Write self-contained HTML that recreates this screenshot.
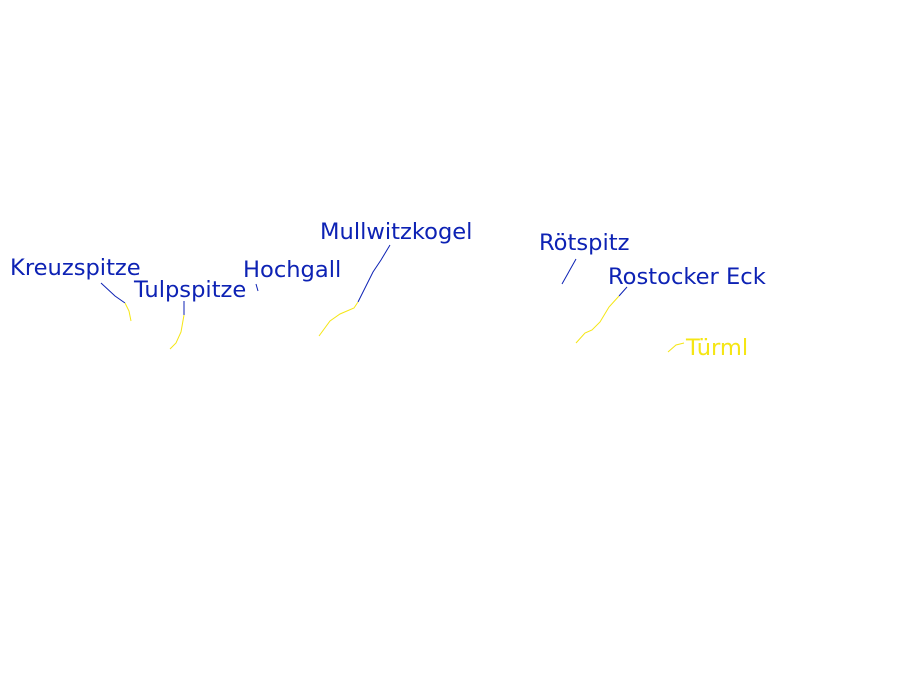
<!DOCTYPE html>
<html><head><meta charset="utf-8"><style>html,body{margin:0;padding:0;background:#fff;}svg{display:block}</style></head>
<body>
<svg width="900" height="675" viewBox="0 0 900 675" xmlns="http://www.w3.org/2000/svg">
<g font-family="DejaVu Sans, sans-serif" font-size="22.6" fill="#0d22b4">
<text x="10" y="275">Kreuzspitze</text>
<text x="134" y="297">Tulpspitze</text>
<text x="243" y="277">Hochgall</text>
<text x="320" y="239">Mullwitzkogel</text>
<text x="539" y="250">Rötspitz</text>
<text x="608" y="284">Rostocker Eck</text>
<text x="686" y="355" fill="#f5e614">Türml</text>
</g>
<g fill="none" stroke-width="1">
<polyline stroke="#0d22b4" points="101,283 115,296 125,303"/>
<polyline stroke="#f5e614" points="125,303 129,311 131,321"/>
<polyline stroke="#0d22b4" points="184,301 184,315"/>
<polyline stroke="#f5e614" points="184,315 181,332 176,343 170,349"/>
<polyline stroke="#0d22b4" points="256,284 258,291"/>
<polyline stroke="#0d22b4" points="390,245 381,260 373,272 358,302"/>
<polyline stroke="#f5e614" points="358,302 354,308 340,314 330,321 319,336"/>
<polyline stroke="#0d22b4" points="576,259 562,284"/>
<polyline stroke="#0d22b4" points="627,287 619,296"/>
<polyline stroke="#f5e614" points="619,296 609,307 600,322 592,330 585,333 576,343"/>
<polyline stroke="#f5e614" points="684,343 676,345 668,352"/>
</g>
</svg>
</body></html>
